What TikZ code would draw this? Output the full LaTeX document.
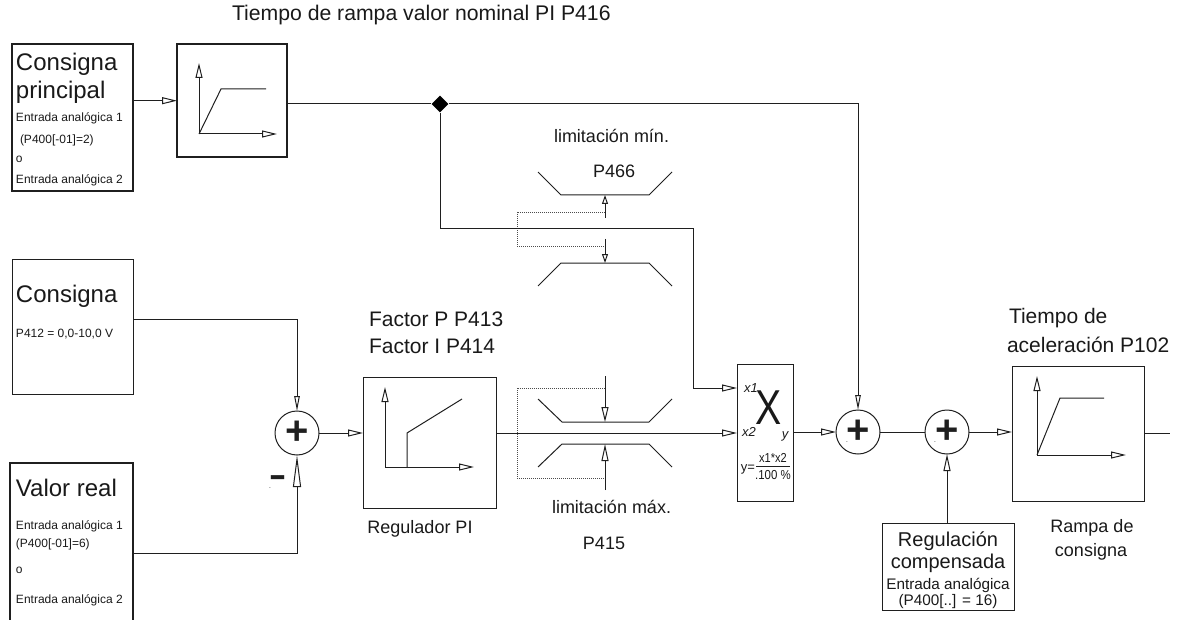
\documentclass[tikz,border=0pt]{standalone}
\usepackage{fontspec}
\setmainfont{Liberation Sans}
\usetikzlibrary{arrows.meta,shapes.geometric}
\newcommand{\fsz}[1]{\fontsize{#1}{#1}\selectfont}
\tikzset{
  x=1pt,y=-1pt,
  every path/.style={line width=1pt},
  lbl/.style={inner sep=0pt,outer sep=0pt,anchor=base west,text=black!90},
  clbl/.style={inner sep=0pt,outer sep=0pt,anchor=base,text=black!90},
  blockbox/.style={draw,rectangle,inner sep=0pt,outer sep=0pt,fill=none},
  heavybox/.style={blockbox,line width=1.2pt},
  sumnode/.style={draw,circle,inner sep=0pt,outer sep=0pt,minimum size=44pt,font=\fsz{40}\bfseries},
  arrS/.style={-{Triangle[open,fill=white,length=15pt,width=7pt]}},
  arrN/.style={-{Triangle[open,fill=white,length=15pt,width=5.5pt]}},
  arrL/.style={-{Triangle[open,fill=white,length=32pt,width=8pt]}},
  arrM/.style={-{Triangle[open,fill=white,length=17pt,width=7pt]}},
  arrT/.style={-{Triangle[open,fill=white,length=9pt,width=6pt]}},
  dotline/.style={densely dotted,line width=0.8pt,draw=black!70},
}
\newcommand{\boxat}[6][blockbox]{\node[#1,minimum width=#5-#3,minimum height=#6-#4] (#2) at ({(#3+#5)/2},{(#4+#6)/2}) {};}
\begin{document}
\begin{tikzpicture}[color=black!88]
\useasboundingbox (0,0) rectangle (1182,620);
% blocks
\boxat[heavybox]{cp}{12}{44}{133}{191}
\boxat[heavybox]{ramp1}{177}{44}{287}{157}
\boxat{cons}{12}{259}{133}{394}
\boxat{pi}{363}{377}{496}{508}
\boxat{mul}{737}{364}{793}{501}
\boxat{ramp2}{1012}{366}{1144}{501}
\boxat{comp}{882}{523}{1014}{610}
\node[sumnode] (s1) at (297,433) {+};
\node[sumnode] (s2) at (858,432) {+};
\node[sumnode] (s3) at (947,432) {+};
\node[diamond,fill=black,inner sep=0pt,minimum width=17pt,minimum height=17pt] (dia) at (440,104) {};
% open-bottomed box
\coordinate (vrTL) at (10,463);
\coordinate (vrTR) at (133,463);
\coordinate (vrOut) at (133,553);
\draw[line width=1.2pt] (10,625) -- (vrTL) -- (vrTR) -- (133,625);
% ramp 1 graph
\coordinate (o1) at (199,134);
\draw[arrS] (o1) -- (199,63);
\draw[arrS] (o1) -- (277,134);
\draw (o1) -- (221,89) -- (266,89);
% PI graph
\coordinate (o2) at (385,467);
\draw[arrS] (o2) -- (385,387);
\draw[arrS] (o2) -- (474,467);
\draw (407,467) -- (407,433) -- (462,399);
% ramp 2 graph
\coordinate (o3) at (1037,455);
\draw[arrS] (o3) -- (1037,376);
\draw[arrS] (o3) -- (1126,455);
\draw (o3) -- (1060,398) -- (1104,398);
% limiters
\draw (538,172) -- (561,195) -- (649,195) -- (672,172);
\draw (538,286) -- (561,263) -- (649,263) -- (672,286);
\draw (538,399) -- (562,422) -- (649,422) -- (672,399);
\draw (538,467) -- (562,444) -- (649,444) -- (672,467);
\coordinate (l1t) at (605,195);
\coordinate (l1b) at (605,263);
\coordinate (l2t) at (605,422);
\coordinate (l2b) at (605,444);
\draw[arrT] (605,218) -- (l1t);
\draw[arrT] (605,239) -- (l1b);
\draw[arrS] (605,376) -- (l2t);
\draw[arrM] (605,490) -- (l2b);
\draw[dotline] (605,212) -- (517,212) -- (517,246) -- (605,246);
\draw[dotline] (605,388) -- (517,388) -- (517,478) -- (605,478);
% connectors
\coordinate (m1) at (737,388);
\coordinate (m2) at (737,433);
\coordinate (c1) at (133,319);
\draw[arrS] (cp.east |- 0,100.7) -- (ramp1.west |- 0,100.7);
\draw (ramp1.east |- dia) -- (dia.west);
\draw[arrN] (dia.east) -| (s2.north);
\draw[arrS] (dia.south) |- (693,229) -- (693,388) -- (m1);
\draw[arrN] (c1) -| (s1.north);
\draw[arrL] (vrOut) -| (s1.south);
\draw[arrS] (s1.east) -- (pi.west |- s1);
\draw[arrS] (pi.east |- m2) -- (m2);
\draw[arrS] (mul.east |- s2) -- (s2.west);
\draw (s2.east) -- (s3.west);
\draw[arrS] (s3.east) -- (ramp2.west |- s3);
\draw[arrM] (comp.north -| s3) -- (s3.south);
\coordinate (outEnd) at (1170,433);
\draw (ramp2.east |- outEnd) -- (outEnd);
% texts
\node[lbl,font=\fsz{21.2}] (t0) at (232,21) {Tiempo de rampa valor nominal PI P416};
\node[lbl,font=\fsz{24}] (t1) at (16,71) {Consigna};
\node[lbl,font=\fsz{24}] (t2) at (16,99) {principal};
\node[lbl,font=\fsz{12}] (t3) at (16,122) {Entrada analógica 1};
\node[lbl,font=\fsz{12}] (t4) at (20,144) {(P400[-01]=2)};
\node[lbl,font=\fsz{12}] (t5) at (16,163) {o};
\node[lbl,font=\fsz{12}] (t6) at (16,184) {Entrada analógica 2};
\node[lbl,font=\fsz{24}] (t7) at (16,302) {Consigna};
\node[lbl,font=\fsz{12}] (t8) at (16,337) {P412 = 0,0-10,0 V};
\node[lbl,font=\fsz{24}] (t9) at (16,496) {Valor real};
\node[lbl,font=\fsz{12}] (t10) at (16,529) {Entrada analógica 1};
\node[lbl,font=\fsz{12}] (t11) at (16,547) {(P400[-01]=6)};
\node[lbl,font=\fsz{12}] (t12) at (16,573) {o};
\node[lbl,font=\fsz{12}] (t13) at (16,603) {Entrada analógica 2};
\node[lbl,font=\fsz{21}] (t14) at (369,326) {Factor P P413};
\node[lbl,font=\fsz{21}] (t15) at (369,353) {Factor I P414};
\node[clbl,font=\fsz{18}] (t16) at (420,533) {Regulador PI};
\node[lbl,font=\fsz{18}] (t17) at (554,143) {limitación mín.};
\node[lbl,font=\fsz{18}] (t18) at (593,178) {P466};
\node[lbl,font=\fsz{18}] (t19) at (552,513) {limitación máx.};
\node[clbl,font=\fsz{18}] (t20) at (604,549) {P415};
\node[lbl,font=\fsz{21}] (t21) at (1009,323) {Tiempo de};
\node[lbl,font=\fsz{21}] (t22) at (1007,352) {aceleración P102};
\node[clbl,font=\fsz{18}] (t23) at (1092,532) {Rampa de};
\node[clbl,font=\fsz{18}] (t24) at (1091,556) {consigna};
\node[clbl,font=\fsz{20}] (t25) at (948,546) {Regulación};
\node[clbl,font=\fsz{20}] (t26) at (948,568) {compensada};
\node[clbl,font=\fsz{15.3}] (t27) at (948,589) {Entrada analógica};
\node[clbl,font=\fsz{15.3}] (t28) at (948,605) {(P400[..] = 16)};
% multiplier contents
\node[clbl,font=\fsz{49}] (tx) at (769,424) {\scalebox{0.8}[1]{X}};
\node[clbl,font=\fsz{13}\itshape] (tx1) at (751,392) {x1};
\node[clbl,font=\fsz{13}\itshape] (tx2) at (749,436) {x2};
\node[clbl,font=\fsz{13}\itshape] (ty) at (785,438) {y};
\node[clbl,font=\fsz{13}] (tf0) at (748,471) {y=};
\node[clbl,font=\fsz{13}] (tf1) at (773,462) {\scalebox{0.85}[1]{x1*x2}};
\node[clbl,font=\fsz{13}] (tf2) at (773,479) {\scalebox{0.88}[1]{.100 \%}};
\draw[line width=0.7pt] (756,466) -- (790,466);
% minus and specks
\node[inner sep=0pt,font=\fsz{27}\bfseries] (mn) at (278,482) {\scalebox{1}[1.5]{–}};
\node[inner sep=0pt,font=\fsz{5}] (d1) at (270,489) {-};
\node[inner sep=0pt,font=\fsz{5}] (d2) at (847,443) {-};
\node[inner sep=0pt,font=\fsz{5}] (d3) at (935,443) {-};
\end{tikzpicture}
\end{document}
